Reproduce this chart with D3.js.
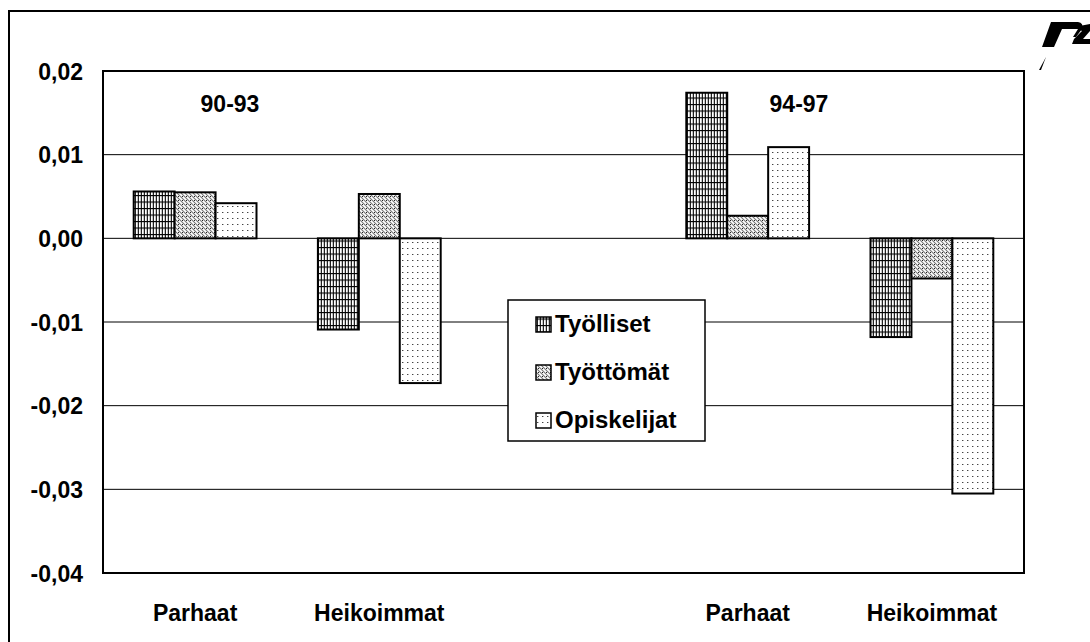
<!DOCTYPE html>
<html>
<head>
<meta charset="utf-8">
<script src="https://cdn.jsdelivr.net/npm/d3@7"></script>
<style>
  html, body { margin: 0; padding: 0; background: #fff; }
  svg { display: block; }
  text { font-family: "Liberation Sans", Arial, sans-serif; font-weight: bold; fill: #000; }
</style>
</head>
<body>
<svg id="chart" width="1090" height="642"></svg>
<script>
// ---- data ----
const categories = ["Parhaat", "Heikoimmat", "", "Parhaat", "Heikoimmat"];
const seriesNames = ["Työlliset", "Työttömät", "Opiskelijat"];
const tyolliset   = [0.0056, -0.0109, null, 0.0174, -0.0118];
const tyottomat   = [0.0055,  0.0053, null, 0.0027, -0.0048];
const opiskelijat = [0.0042, -0.0173, null, 0.0109, -0.0305];
const yTicks = [0.02, 0.01, 0.00, -0.01, -0.02, -0.03, -0.04];
const periodLabels = ["90-93", "94-97"];

// ---- layout ----
const plot = { left: 103, top: 71, right: 1024, bottom: 573 };
const fontSize = 23;

const svg = d3.select("#chart");
const defs = svg.append("defs");

// patterns
const p1 = defs.append("pattern").attr("id", "pTyol").attr("patternUnits", "userSpaceOnUse")
  .attr("width", 3).attr("height", 6.5);
p1.append("rect").attr("width", 3).attr("height", 6.5).attr("fill", "#fff");
p1.append("rect").attr("x", 0).attr("width", 1).attr("height", 6.5).attr("fill", "#222");
p1.append("rect").attr("x", 2).attr("width", 0.8).attr("height", 6.5).attr("fill", "#bbb");
p1.append("rect").attr("y", 0).attr("width", 3).attr("height", 1.1).attr("fill", "#000");

const p2 = defs.append("pattern").attr("id", "pTyot").attr("patternUnits", "userSpaceOnUse")
  .attr("width", 4).attr("height", 4);
p2.append("rect").attr("width", 4).attr("height", 4).attr("fill", "#fff");
p2.append("path").attr("d", "M-1,-1 L5,5 M-1,3 L1,5 M3,-1 L5,1")
  .attr("stroke", "#777").attr("stroke-width", 1.1);
p2.append("rect").attr("x", 2).attr("y", 0).attr("width", 1).attr("height", 1).attr("fill", "#222");

const p3 = defs.append("pattern").attr("id", "pOpis").attr("patternUnits", "userSpaceOnUse")
  .attr("width", 5).attr("height", 6);
p3.append("rect").attr("width", 5).attr("height", 6).attr("fill", "#fff");
p3.append("rect").attr("x", 2).attr("y", 2).attr("width", 1.4).attr("height", 1).attr("fill", "#444");

const fills = ["url(#pTyol)", "url(#pTyot)", "url(#pOpis)"];
const seriesValues = [tyolliset, tyottomat, opiskelijat];

// outer frame
svg.append("rect").attr("x", 9).attr("y", 11).attr("width", 1200).attr("height", 800)
  .attr("fill", "none").attr("stroke", "#000").attr("stroke-width", 2);

// logo (decorative)
const logo = svg.append("g").attr("fill", "#000");
logo.append("path").attr("d", "M1051,22 L1078,22 Q1084,23 1082,29 L1076,37 L1073,37 L1078,29 L1062,29 L1054,47 L1042,47 Z");
logo.append("path").attr("d", "M1074,27 L1090,24 L1090,31 L1083,39 L1090,39 L1090,44 L1072,44 L1074,39 L1082,31 Z");
logo.append("path").attr("d", "M1046,57 L1041,70 L1039,70 Z");

// scales
const x = d3.scaleBand().domain(d3.range(categories.length)).range([plot.left, plot.right]).paddingInner(0).paddingOuter(0);
const xs = d3.scaleBand().domain(d3.range(seriesNames.length)).range([0, x.bandwidth()]).paddingInner(0).paddingOuter(0.75);
const y = d3.scaleLinear().domain([-0.04, 0.02]).range([plot.bottom, plot.top]);

// gridlines
svg.append("g").selectAll("line").data(yTicks.filter(t => t < 0.02 && t > -0.04)).join("line")
  .attr("x1", plot.left).attr("x2", plot.right)
  .attr("y1", d => y(d)).attr("y2", d => y(d))
  .attr("stroke", "#000").attr("stroke-width", 1);

// bars
const barData = [];
seriesValues.forEach((vals, s) => vals.forEach((v, i) => { if (v !== null) barData.push({ s, i, v }); }));
svg.append("g").selectAll("rect").data(barData).join("rect")
  .attr("x", d => x(d.i) + xs(d.s))
  .attr("width", xs.bandwidth())
  .attr("y", d => y(Math.max(0, d.v)))
  .attr("height", d => Math.abs(y(d.v) - y(0)))
  .attr("fill", d => fills[d.s])
  .attr("stroke", "#000").attr("stroke-width", 2);

// plot border
svg.append("rect").attr("x", plot.left).attr("y", plot.top)
  .attr("width", plot.right - plot.left).attr("height", plot.bottom - plot.top)
  .attr("fill", "none").attr("stroke", "#000").attr("stroke-width", 2);

// y axis
const loc = d3.formatLocale({ decimal: ",", thousands: " ", grouping: [3], currency: ["", ""], minus: "-" });
const fmt = loc.format(".2f");
const yAxis = d3.axisLeft(y).tickValues(yTicks).tickSize(0).tickPadding(20).tickFormat(fmt);
const ga = svg.append("g").attr("transform", `translate(${plot.left},0)`).call(yAxis);
ga.select(".domain").remove();
ga.selectAll("text").attr("font-size", fontSize).attr("font-family", "Liberation Sans, Arial, sans-serif")
  .attr("font-weight", "bold").attr("fill", "#000").attr("dy", "0.35em");

// x axis labels
const xAxis = d3.axisBottom(x).tickSize(0).tickPadding(25).tickFormat(i => categories[i]);
const gx = svg.append("g").attr("transform", `translate(0,${plot.bottom})`).call(xAxis);
gx.select(".domain").remove();
gx.selectAll("text").attr("font-size", fontSize).attr("font-family", "Liberation Sans, Arial, sans-serif")
  .attr("font-weight", "bold").attr("fill", "#000").attr("dy", "1em");

// period labels
const periodX = [230, 799];
svg.append("g").selectAll("text").data(periodLabels).join("text")
  .attr("x", (d, i) => periodX[i]).attr("y", 112)
  .attr("text-anchor", "middle").attr("font-size", fontSize).text(d => d);

// legend
const lg = svg.append("g");
lg.append("rect").attr("x", 508).attr("y", 300).attr("width", 197).attr("height", 141)
  .attr("fill", "#fff").attr("stroke", "#000").attr("stroke-width", 1.5);
const rowsY = [332, 380, 428];
seriesNames.forEach((n, s) => {
  lg.append("rect").attr("x", 536).attr("y", rowsY[s] - 15).attr("width", 15).attr("height", 15)
    .attr("fill", fills[s]).attr("stroke", "#000").attr("stroke-width", 1.5);
  lg.append("text").attr("x", 555).attr("y", rowsY[s]).attr("font-size", 24).text(n);
});
</script>
</body>
</html>
